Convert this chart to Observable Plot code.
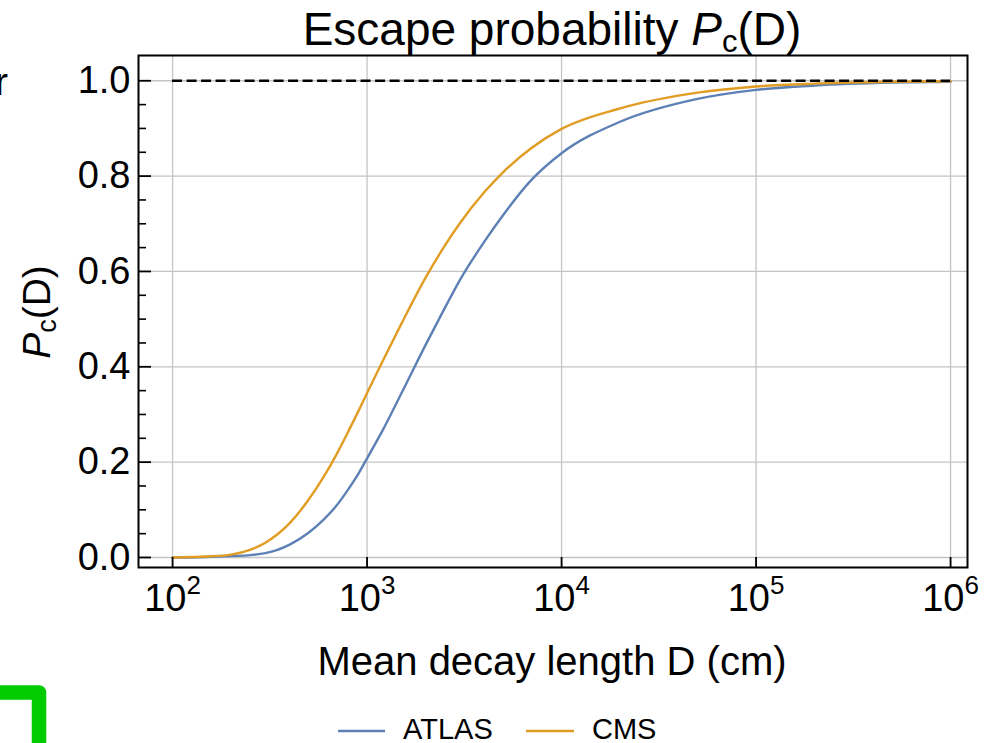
<!DOCTYPE html>
<html>
<head>
<meta charset="utf-8">
<script src="https://cdn.jsdelivr.net/npm/d3@7"></script>
<script src="https://cdn.jsdelivr.net/npm/@observablehq/plot@0.6"></script>
<style>
  body { margin: 0; background: #fff; }
  #wrap { position: relative; width: 993px; height: 743px; overflow: hidden; }
</style>
</head>
<body>
<div id="wrap"></div>
<script>
// ---- data ----
const decayLength = [100,150,200,250,300,400,500,600,700,800,900,1000,1200,1500,2000,2500,3000,4000,5000,7000,10000,20000,50000,100000,200000,500000,1000000];
const atlasValues = [0.000,0.001,0.003,0.005,0.009,0.027,0.052,0.080,0.110,0.143,0.175,0.208,0.266,0.344,0.446,0.522,0.582,0.662,0.718,0.792,0.848,0.914,0.962,0.981,0.990,0.996,0.998];
const cmsValues   = [0.000,0.002,0.006,0.016,0.031,0.072,0.121,0.170,0.218,0.264,0.306,0.345,0.411,0.490,0.587,0.653,0.701,0.766,0.808,0.859,0.899,0.942,0.975,0.988,0.994,0.998,0.999];
const seriesNames = ["ATLAS", "CMS"];
const seriesColors = ["#5E81B5", "#E19C24"];
const xTicks = [1e2, 1e3, 1e4, 1e5, 1e6];
const yTicks = [0, 0.2, 0.4, 0.6, 0.8, 1.0];
const yMinorTicks = [0.05,0.1,0.15,0.25,0.3,0.35,0.45,0.5,0.55,0.65,0.7,0.75,0.85,0.9,0.95];
const referenceLevel = [1];
const titleText = "Escape probability ";
const xLabelText = "Mean decay length D (cm)";

// ---- layout ----
const W = 993, H = 743;
const mL = 138, mR = 26, mT = 55, mB = 176;
const plotW = W - mL - mR, plotH = H - mT - mB;
const font = "'Liberation Sans', Arial, Helvetica, sans-serif";

const rows = [];
decayLength.forEach((d, i) => {
  rows.push({D: d, P: atlasValues[i], s: seriesNames[0]});
  rows.push({D: d, P: cmsValues[i], s: seriesNames[1]});
});

const chart = Plot.plot({
  width: W, height: H,
  marginLeft: mL, marginRight: mR, marginTop: mT, marginBottom: mB,
  style: {fontFamily: font, background: "white", color: "black"},
  x: {type: "log", domain: [66.8, 1.222e6]},
  y: {domain: [-0.021, 1.053]},
  color: {domain: seriesNames, range: seriesColors},
  marks: [
    Plot.gridX(xTicks, {stroke: "#c4c4c4", strokeOpacity: 1, strokeWidth: 1.3}),
    Plot.gridY(yTicks, {stroke: "#c4c4c4", strokeOpacity: 1, strokeWidth: 1.3}),
    Plot.line(rows, {x: "D", y: "P", z: "s", stroke: "s", strokeWidth: 2.4, curve: "monotone-x"}),
    Plot.ruleY(referenceLevel, {x1: xTicks[0], x2: xTicks[xTicks.length - 1], stroke: "black", strokeWidth: 2.7, strokeDasharray: "10,4.5"}),
    Plot.tickY(yTicks, {y: d => d, stroke: "black", strokeWidth: 1.8, insetRight: plotW - 13}),
    Plot.tickY(yMinorTicks, {y: d => d, stroke: "black", strokeWidth: 1.6, insetRight: plotW - 8}),
    Plot.tickX(xTicks, {x: d => d, stroke: "black", strokeWidth: 1.8, insetTop: plotH - 10}),
    Plot.axisY(yTicks, {tickSize: 0, tickPadding: 8, tickFormat: d => d.toFixed(1), fontSize: 38, label: null}),
    Plot.axisX(xTicks, {tickSize: 0, tickPadding: 17, tickFormat: d => "10^" + Math.round(Math.log10(d)), fontSize: 38, label: null}),
    Plot.frame({stroke: "black", strokeWidth: 2})
  ]
});

document.getElementById("wrap").appendChild(chart);

const svg = d3.select(chart);

// superscript exponents on x tick labels
svg.selectAll('g[aria-label="x-axis tick label"] text').each(function() {
  const t = d3.select(this);
  const s = t.text();
  const parts = s.split("^");
  if (parts.length === 2) {
    t.text(null);
    t.append("tspan").text(parts[0]);
    t.append("tspan").attr("font-size", 26).attr("dy", "-17").text(parts[1]);
  }
});

// title
const title = svg.append("text")
  .attr("x", 552).attr("y", 45)
  .attr("text-anchor", "middle")
  .attr("font-family", font).attr("font-size", 46).attr("fill", "black");
title.append("tspan").text(titleText);
title.append("tspan").attr("font-style", "italic").text("P");
title.append("tspan").attr("font-size", 31).attr("dy", 7).text("c");
title.append("tspan").attr("dy", -7).text("(D)");

// x axis label
svg.append("text")
  .attr("x", 552).attr("y", 675)
  .attr("text-anchor", "middle")
  .attr("font-family", font).attr("font-size", 40).attr("fill", "black")
  .text(xLabelText);

// y axis label
const yl = svg.append("text")
  .attr("transform", "translate(50,312) rotate(-90)")
  .attr("text-anchor", "middle")
  .attr("font-family", font).attr("font-size", 39).attr("fill", "black");
yl.append("tspan").attr("font-style", "italic").text("P");
yl.append("tspan").attr("font-size", 27).attr("dy", 6).text("c");
yl.append("tspan").attr("dy", -6).text("(D)");

// legend
const legendItems = [
  {name: seriesNames[0], color: seriesColors[0], x0: 338, x1: 385, tx: 403},
  {name: seriesNames[1], color: seriesColors[1], x0: 526, x1: 574, tx: 592}
];
const lg = svg.append("g");
legendItems.forEach(it => {
  lg.append("line").attr("x1", it.x0).attr("x2", it.x1).attr("y1", 731).attr("y2", 731)
    .attr("stroke", it.color).attr("stroke-width", 2.4);
  lg.append("text").attr("x", it.tx).attr("y", 739)
    .attr("text-anchor", "start")
    .attr("font-family", font).attr("font-size", 29).attr("fill", "black").text(it.name);
});

// cropped-edge remnants of the source image
svg.append("text").attr("x", -5).attr("y", 95)
  .attr("text-anchor", "start")
  .attr("font-family", font).attr("font-size", 39).attr("fill", "black").text("r");
svg.append("path").attr("d", "M0,692.5 H39 V750")
  .attr("fill", "none").attr("stroke", "#00CC00").attr("stroke-width", 14.5)
  .attr("stroke-linejoin", "round");
</script>
</body>
</html>
